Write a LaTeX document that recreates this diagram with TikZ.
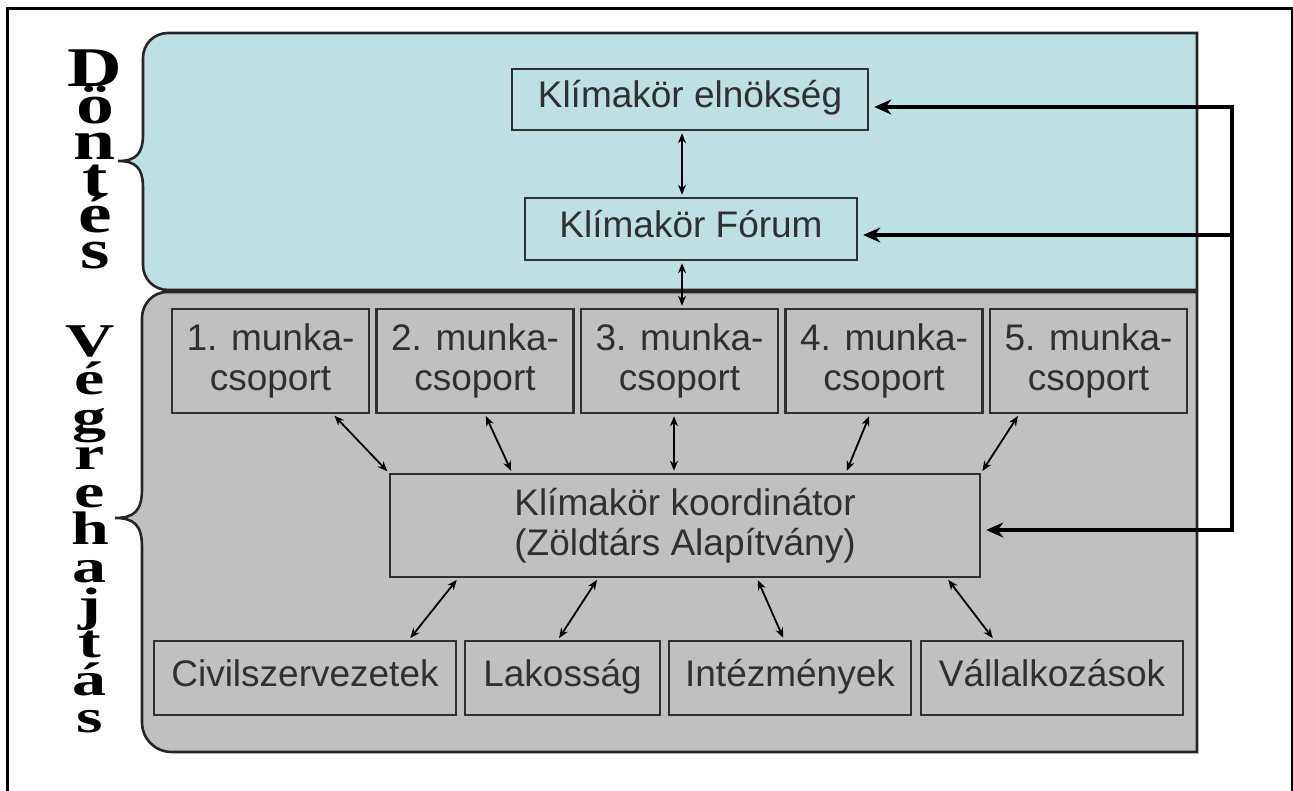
\documentclass[tikz,border=0pt]{standalone}
\usepackage{fontspec}
\setmainfont{Liberation Sans}
\newfontfamily\dontesfont{Liberation Serif}[FakeStretch=1.35]
\newfontfamily\vegrefont{Liberation Serif}[FakeStretch=1.45]
\usetikzlibrary{arrows.meta}

\definecolor{dontes}{RGB}{189,224,226}
\definecolor{vegre}{RGB}{192,192,192}
\definecolor{ink}{RGB}{48,48,48}

\tikzset{
  panel/.style={draw=black!85, line width=2.6pt},
  box/.style={draw=ink, line width=2.5pt, text=ink, align=center, inner sep=0pt,
    font=\fontsize{37}{40}\selectfont},
  oneline/.style={text height=25pt, text depth=8pt},
  link/.style={{Stealth[length=10pt,width=8pt]}-{Stealth[length=10pt,width=8pt]},
    line width=1.8pt, shorten <=2pt, shorten >=2pt},
  feed/.style={-{Stealth[length=17pt,width=15pt]}, line width=4pt, shorten >=5pt},
  side/.style={inner sep=0pt, anchor=north, align=center}
}

\begin{document}
\begin{tikzpicture}[x=1pt,y=-1pt]
\useasboundingbox (0,0) rectangle (1293,791);
%
	% frame and the two panels
	\draw[line width=3pt] (7,791) -- (7,9) -- (1292,9) -- (1292,791);
	\draw[panel, fill=dontes] (143,58) .. controls (143,44) and (154,33) .. (168,33)
		-- (1197,33) -- (1197,290) -- (168,290)
		.. controls (154,290) and (143,279) .. (143,265) -- (143,188)
		.. controls (143,168) and (136,161) .. (118,161)
		.. controls (136,161) and (143,154) .. (143,134) -- cycle;
	\draw[panel, fill=vegre] (142,318) .. controls (142,304) and (153,292) .. (167,292)
		-- (1197,292) -- (1197,752) -- (172,752)
		.. controls (155,752) and (142,739) .. (142,722) -- (142,547)
		.. controls (142,525) and (134,518) .. (115,518)
		.. controls (134,518) and (142,511) .. (142,489) -- cycle;
%
	% side labels
	\node[side, font={\dontesfont\bfseries\fontsize{56}{36.4}\selectfont\lineskiplimit=-100pt}] (dontlbl) at (95,50) {D\\ö\\n\\t\\é\\s};
	\node[side, font={\vegrefont\bfseries\fontsize{47}{37.6}\selectfont\lineskiplimit=-100pt}] (vegrlbl) at (90,326) {V\\é\\g\\r\\e\\h\\a\\j\\t\\á\\s};
%
	% boxes
	\node[box, oneline, minimum width=356pt, minimum height=61pt] (elnokseg) at (690,99.5) {Klímakör elnökség};
	\node[box, oneline, minimum width=332pt, minimum height=62pt] (forum) at (691,229) {Klímakör Fórum};
	\foreach \i/\x in {1/270.5,2/475,3/679.5,4/884,5/1088.5}
		\node[box, minimum width=197pt, minimum height=104pt] (mk\i) at (\x,361) {\i. munka-\\csoport};
	\node[box, minimum width=590pt, minimum height=103pt] (koord) at (685,525.5) {Klímakör koordinátor\\(Zöldtárs Alapítvány)};
	\node[box, oneline, minimum width=302pt, minimum height=74pt] (civil) at (305,678) {Civilszervezetek};
	\node[box, oneline, minimum width=195pt, minimum height=74pt] (lakos) at (562.5,678) {Lakosság};
	\node[box, oneline, minimum width=242pt, minimum height=74pt] (intez) at (790,678) {Intézmények};
	\node[box, oneline, minimum width=262pt, minimum height=74pt] (vallal) at (1052,678) {Vállalkozások};
%
	% links
	\draw[link] ([xshift=-8pt]elnokseg.south) -- ([xshift=-9pt]forum.north);
	\draw[link] ([xshift=-9pt]forum.south) -- ([xshift=2.5pt]mk3.north);
	\draw[link] ([xshift=62.5pt]mk1.south) -- (koord.north west);
	\draw[link] ([xshift=10pt]mk2.south) -- ([xshift=-173pt]koord.north);
	\draw[link] ([xshift=-5.5pt]mk3.south) -- ([xshift=-11pt]koord.north);
	\draw[link] ([xshift=-14pt]mk4.south) -- ([xshift=161pt]koord.north);
	\draw[link] ([xshift=-69.5pt]mk5.south) -- (koord.north east);
	\draw[link] ([xshift=-227pt]koord.south) -- ([xshift=104pt]civil.north);
	\draw[link] ([xshift=-87pt]koord.south) -- ([xshift=-4.5pt]lakos.north);
	\draw[link] ([xshift=72pt]koord.south) -- ([xshift=-6pt]intez.north);
	\draw[link] ([xshift=262pt]koord.south) -- ([xshift=-58pt]vallal.north);
%
	% feedback line on the right
	\coordinate (fbtop) at (1232,107);
	\coordinate (fbmid) at (1232,235);
	\coordinate (fbbot) at (1232,530);
	\draw[feed] (fbmid) -- (fbtop) -- (elnokseg.east |- fbtop);
	\draw[feed] (fbmid) -- (forum.east |- fbmid);
	\draw[feed] (fbmid) -- (fbbot) -- (koord.east |- fbbot);
%
\end{tikzpicture}
\end{document}
